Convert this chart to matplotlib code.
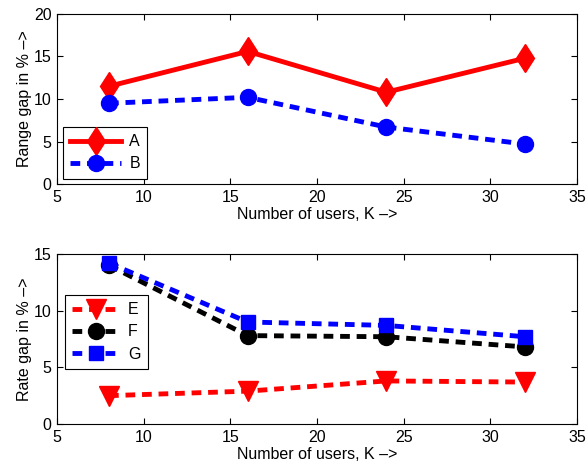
import matplotlib
matplotlib.use("Agg")
import matplotlib.pyplot as plt

plt.rcParams['font.family'] = ['Liberation Sans', 'DejaVu Sans']

K = [8, 16, 24, 32]
A = [11.5, 15.6, 10.8, 14.8]
B = [9.5, 10.2, 6.7, 4.7]
E = [2.5, 2.9, 3.8, 3.7]
F = [14.0, 7.8, 7.7, 6.8]
G = [14.2, 9.0, 8.7, 7.7]

xlabel = "Number of users, K \u2013>"
ylabel_top = "Range gap in % \u2013>"
ylabel_bot = "Rate gap in % \u2013>"

fig = plt.figure(figsize=(5.88, 4.65), dpi=100)
W, H = 588, 465
L, R = 57, 577
ax1 = fig.add_axes([L / W, 1 - 184 / H, (R - L) / W, 170 / H])
ax2 = fig.add_axes([L / W, 1 - 424 / H, (R - L) / W, 170 / H])

dash = (0, (2.0, 1.4))
lw = 3.5
fs = 11.5

ax1.plot(K, A, color='red', lw=lw, ls='-', marker='d', ms=14.5, label='A')
ax1.plot(K, B, color='blue', lw=lw, ls=dash, marker='o', ms=11.5, label='B')
ax1.set_xlim(5, 35)
ax1.set_ylim(0, 20)
ax1.set_yticks([0, 5, 10, 15, 20])
ax1.set_ylabel(ylabel_top, fontsize=fs, labelpad=1)
ax1.set_xlabel(xlabel, fontsize=fs, labelpad=2)

ax2.plot(K, E, color='red', lw=lw, ls=dash, marker='v', ms=14, label='E')
ax2.plot(K, F, color='black', lw=lw, ls=dash, marker='o', ms=11.5, label='F')
ax2.plot(K, G, color='blue', lw=lw, ls=dash, marker='s', ms=9.5, label='G')
ax2.set_xlim(5, 35)
ax2.set_ylim(0, 15)
ax2.set_yticks([0, 5, 10, 15])
ax2.set_ylabel(ylabel_bot, fontsize=fs, labelpad=1)
ax2.set_xlabel(xlabel, fontsize=fs, labelpad=2)

for ax in (ax1, ax2):
    ax.set_xticks([5, 10, 15, 20, 25, 30, 35])
    ax.tick_params(direction='in', top=True, right=True, labelsize=fs, length=4, pad=4)
    for s in ax.spines.values():
        s.set_linewidth(0.8)

aw, ah = R - L, 170
leg1 = ax1.legend(loc='upper left', bbox_to_anchor=((63 - L) / aw, 1 - (127 - 14) / ah),
                  fontsize=fs, fancybox=False, edgecolor='black', framealpha=1,
                  handlelength=3.2, borderaxespad=0, numpoints=1, handletextpad=0.5,
                  labelspacing=0.45, borderpad=0.45)
leg1.get_frame().set_linewidth(0.8)
leg2 = ax2.legend(loc='upper left', bbox_to_anchor=((65 - L) / aw, 1 - (295 - 254) / ah),
                  fontsize=fs, fancybox=False, edgecolor='black', framealpha=1,
                  handlelength=3.0, borderaxespad=0, numpoints=1, handletextpad=0.5,
                  labelspacing=0.45, borderpad=0.45)
leg2.get_frame().set_linewidth(0.8)

fig.savefig("out.png", dpi=100)
